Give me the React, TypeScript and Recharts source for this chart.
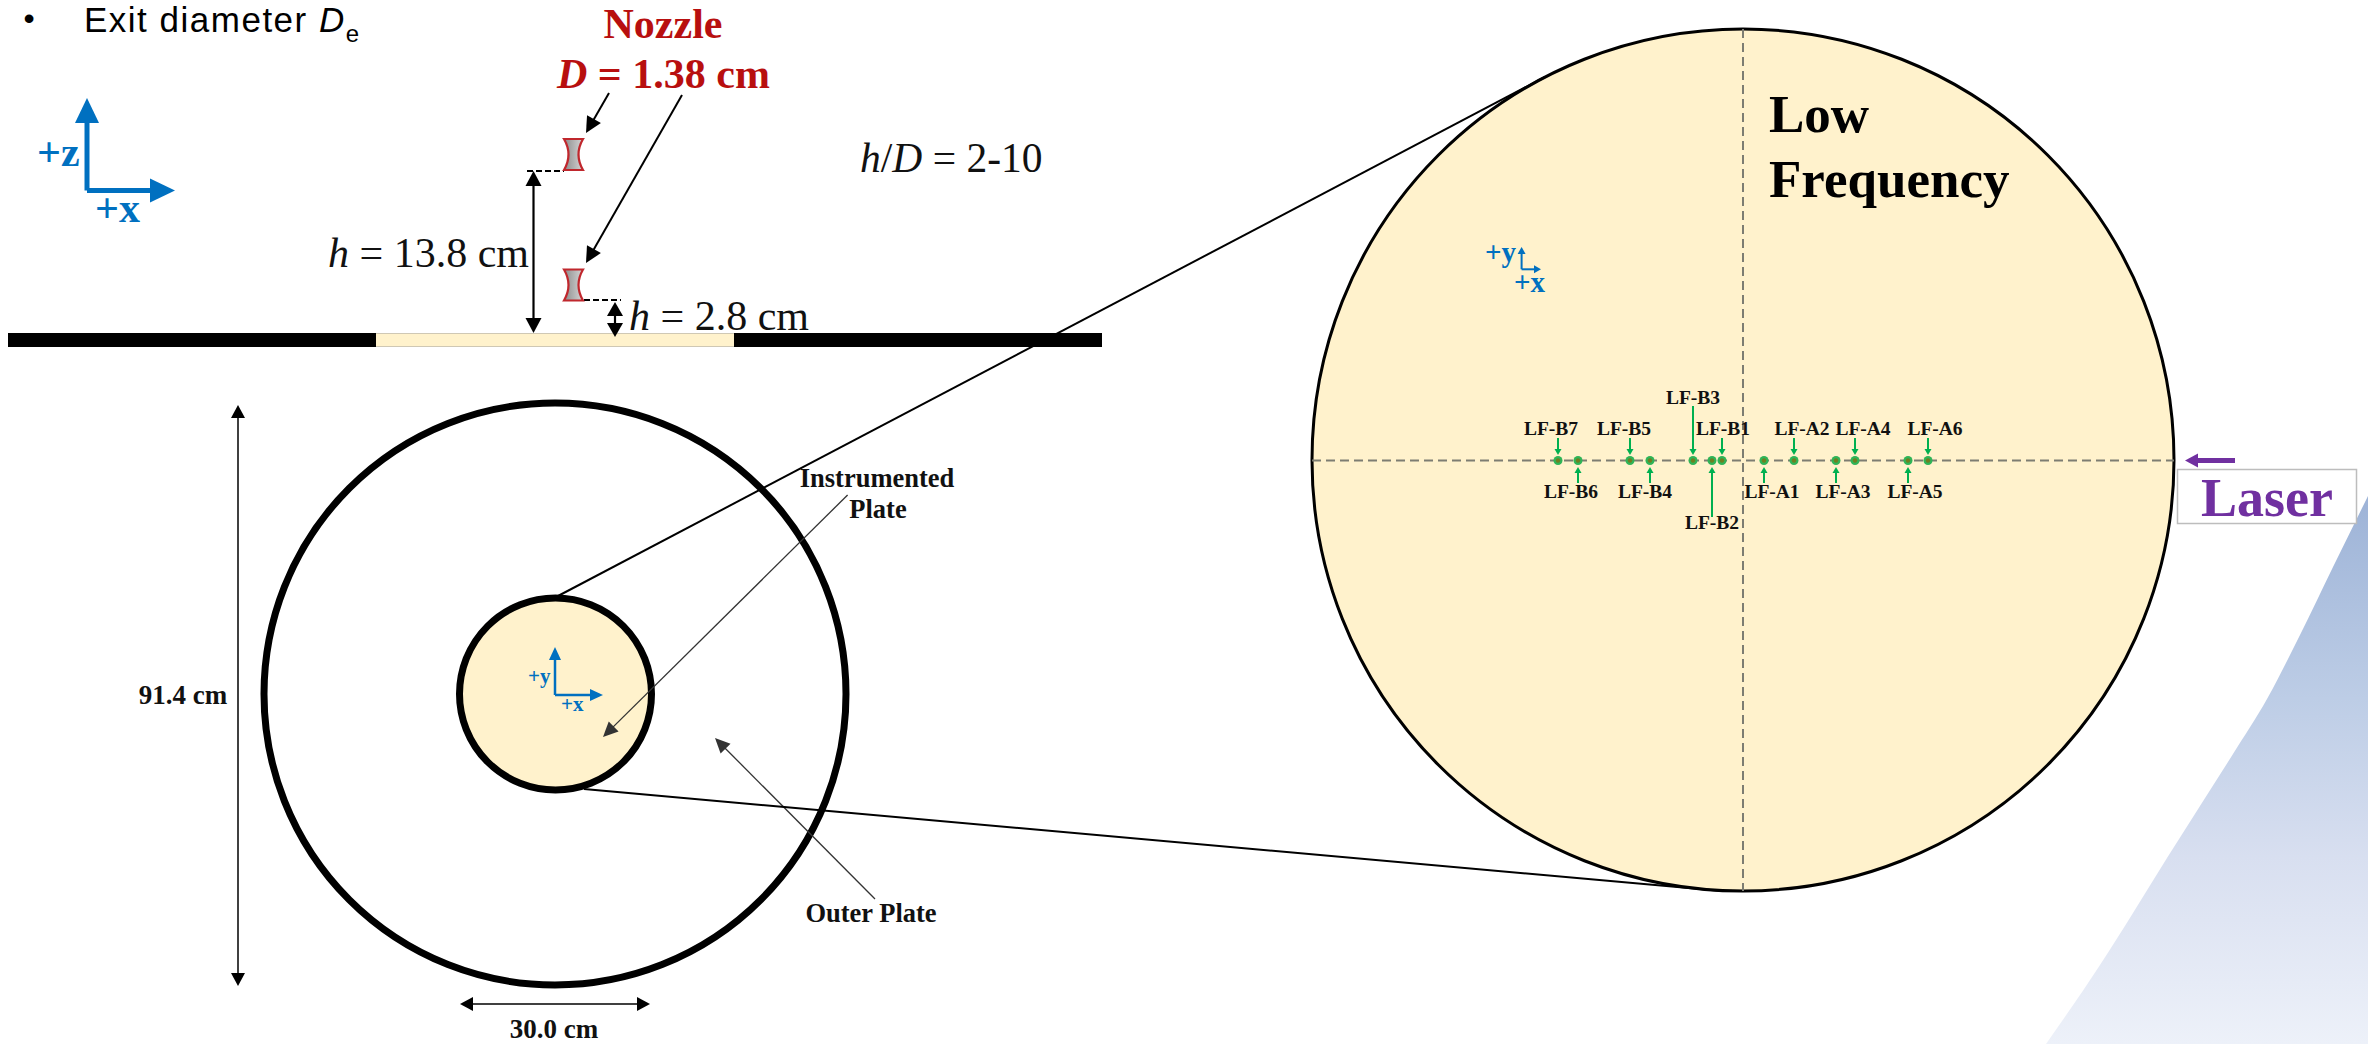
import { ComposedChart, Area, Scatter, XAxis, YAxis, ReferenceLine, ReferenceDot, ReferenceArea } from "recharts";

const W = 2368;
const H = 1044;
const SERIF = "'Liberation Serif', serif";
const SANS = "'Liberation Sans', sans-serif";
const CREAM = "#FFF2CC";
const BLUE = "#0070C0";
const GREEN = "#00B050";
const RED = "#B80F0F";
const PURPLE = "#7030A0";

// background swoosh, lower right
const swooshX = [2046, 2100, 2133, 2167, 2200, 2233, 2267, 2300, 2333, 2368];
const swooshY = [1044, 965, 913, 858, 806, 754, 699, 635, 567, 496];
const swoosh = swooshX.map((x, i) => ({ x, band: [swooshY[i], H] }));

// sensors on the zoomed plate
const sensorNames = ["LF-B7", "LF-B6", "LF-B5", "LF-B4", "LF-B3", "LF-B2", "LF-B1", "LF-A1", "LF-A2", "LF-A3", "LF-A4", "LF-A5", "LF-A6"];
const sensorX = [1558, 1578, 1630, 1650, 1693, 1712, 1722, 1764, 1794, 1836, 1855, 1908, 1928];
const labelX = [1551, 1571, 1624, 1645, 1693, 1712, 1723, 1772, 1802, 1843, 1863, 1915, 1935];
const labelY = [435, 498, 435, 498, 404, 529, 435, 498, 435, 498, 435, 498, 435];
const arrowTail = [438, 483, 438, 483, 406, 517, 438, 483, 438, 483, 438, 483, 438];
const PLATE_Y = 460.5;
const sensors = sensorX.map((x) => ({ x, y: PLATE_Y }));

type Pt = [number, number];
type ArrowOpts = { color?: string; width?: number; len?: number; half?: number; both?: boolean };

const head = (key: string, tip: Pt, from: Pt, color: string, len: number, half: number) => {
  const a = Math.atan2(tip[1] - from[1], tip[0] - from[0]);
  const c = Math.cos(a);
  const s = Math.sin(a);
  return (
    <ReferenceDot
      key={key}
      x={tip[0]}
      y={tip[1]}
      r={1}
      shape={(p: any) => (
        <polygon
          fill={color}
          points={`${p.cx},${p.cy} ${p.cx - len * c - half * s},${p.cy - len * s + half * c} ${p.cx - len * c + half * s},${p.cy - len * s - half * c}`}
        />
      )}
    />
  );
};

const seg = (key: string, a: Pt, b: Pt, color = "#000", width = 2, dash?: string) => (
  <ReferenceLine
    key={key}
    segment={[{ x: a[0], y: a[1] }, { x: b[0], y: b[1] }]}
    stroke={color}
    strokeWidth={width}
    strokeDasharray={dash}
  />
);

const arrow = (key: string, from: Pt, tip: Pt, o: ArrowOpts = {}) => {
  const { color = "#000", width = 2, len = 14, half = 7, both = false } = o;
  const d = Math.hypot(tip[0] - from[0], tip[1] - from[1]);
  const ux = (tip[0] - from[0]) / d;
  const uy = (tip[1] - from[1]) / d;
  const end: Pt = [tip[0] - ux * (len - 1), tip[1] - uy * (len - 1)];
  const start: Pt = both ? [from[0] + ux * (len - 1), from[1] + uy * (len - 1)] : from;
  return [
    seg(key + "-l", start, end, color, width),
    head(key + "-h", tip, from, color, len, half),
    ...(both ? [head(key + "-h2", from, tip, color, len, half)] : []),
  ];
};

// circles sit in the area layer so the reference lines stay on top of them
const disc = (key: string, x: number, y: number, r: number, fill: string, width: number) => (
  <ReferenceArea
    key={key}
    x1={x - r}
    x2={x + r}
    y1={y - r}
    y2={y + r}
    shape={(p: any) => (
      <circle cx={p.x + p.width / 2} cy={p.y + p.height / 2} r={p.width / 2} fill={fill} stroke="#000" strokeWidth={width} />
    )}
  />
);

const txt = (key: string, x: number, y: number, body: any, style: any) => (
  <ReferenceDot
    key={key}
    x={x}
    y={y}
    r={1}
    shape={(p: any) => (
      <text x={p.cx} y={p.cy} fontFamily={SERIF} {...style}>
        {body}
      </text>
    )}
  />
);

const nozzle = (key: string, x: number, y: number) => (
  <ReferenceDot
    key={key}
    x={x}
    y={y}
    r={1}
    shape={(p: any) => (
      <path
        d={`M${p.cx - 9.5},${p.cy - 15.5} Q${p.cx - 0.5},${p.cy} ${p.cx - 9.5},${p.cy + 15.5} L${p.cx + 9.5},${p.cy + 15.5} Q${p.cx + 0.5},${p.cy} ${p.cx + 9.5},${p.cy - 15.5} Z`}
        fill="url(#nozzleFill)"
        stroke="#C0272D"
        strokeWidth={2.2}
      />
    )}
  />
);

const SensorDot = (p: any) => (
  <g>
    <circle cx={p.cx} cy={p.cy} r={4.5} fill="#2FB457" />
    <circle cx={p.cx} cy={p.cy} r={2.2} fill="#6E7F22" />
  </g>
);

const axes = (key: string, o: Pt, up: number, right: number, color: string, w: number, len: number, half: number) => [
  ...arrow(key + "-u", o, [o[0], up], { color, width: w, len, half }),
  ...arrow(key + "-r", o, [right, o[1]], { color, width: w, len, half }),
];

export default function App() {
  return (
    <div style={{ position: "absolute", left: 0, top: 0, width: W, height: H, background: "#fff" }}>
      <ComposedChart width={W} height={H} margin={{ top: 0, right: 0, bottom: 0, left: 0 }}>
        <defs>
          <linearGradient id="swooshFill" x1="0" y1="0" x2="0" y2="1">
            <stop offset="0%" stopColor="#9DB3D7" />
            <stop offset="37%" stopColor="#BDCDE6" />
            <stop offset="66%" stopColor="#D8DFF0" />
            <stop offset="100%" stopColor="#EDF1F9" />
          </linearGradient>
          <linearGradient id="nozzleFill" x1="0" y1="0" x2="1" y2="0">
            <stop offset="0%" stopColor="#8C8C8C" />
            <stop offset="100%" stopColor="#D6D6D6" />
          </linearGradient>
        </defs>
        <XAxis type="number" dataKey="x" domain={[0, W]} hide allowDataOverflow />
        <YAxis type="number" domain={[0, H]} reversed hide allowDataOverflow />

        <Area data={swoosh} dataKey="band" type="monotone" stroke="none" fill="url(#swooshFill)" fillOpacity={1} dot={false} isAnimationActive={false} />

        {/* side view */}
        {seg("bar", [8, 340], [1102, 340], "#000", 14)}
        {seg("bar-mid", [376, 340], [734, 340], CREAM, 14)}
        {seg("bar-edge-a", [376, 333.5], [734, 333.5], "#CFC8B4", 1)}
        {seg("bar-edge-b", [376, 346.5], [734, 346.5], "#CFC8B4", 1)}
        {nozzle("noz-top", 573.5, 154.5)}
        {nozzle("noz-low", 573.5, 285)}
        {seg("dash-top", [527, 171], [564, 171], "#000", 2, "6 3")}
        {seg("dash-low", [584, 300], [621, 300], "#000", 2, "6 3")}
        {arrow("h138", [533.5, 171], [533.5, 333], { both: true, len: 15, half: 8, width: 2.2 })}
        {arrow("h28", [615, 302], [615, 337], { both: true, len: 14, half: 8, width: 2.2 })}
        {arrow("noz-a", [609, 93], [586, 133], { len: 16, half: 8 })}
        {arrow("noz-b", [682, 95], [586, 263], { len: 16, half: 8 })}
        {axes("side-axes", [87, 190.5], 98, 175, BLUE, 5, 25, 12)}

        {/* plan view */}
        {disc("outer", 555, 694, 291, "none", 7)}
        {disc("inner", 555.5, 694, 96, CREAM, 7)}
        {axes("plan-axes", [555, 695], 647, 603, BLUE, 2.5, 13, 6)}
        {arrow("inst", [847.6, 495], [603, 737], { color: "#333", width: 1.3, len: 15, half: 7 })}
        {arrow("outerp", [875, 899], [715, 738], { color: "#333", width: 1.3, len: 15, half: 7 })}
        {arrow("d914", [238, 405], [238, 986], { width: 1.5, len: 13, half: 7, both: true })}
        {arrow("d300", [460, 1004], [650, 1004], { width: 1.5, len: 13, half: 7, both: true, color: "#000" })}

        {/* zoom lines */}
        {disc("big", 1743, 460, 431, CREAM, 3)}
        {seg("zoom-a", [558, 596], [1545, 77], "#000", 2)}
        {seg("zoom-b", [584, 789], [1722, 891], "#000", 2)}
        {seg("big-h", [1312, PLATE_Y], [2174, PLATE_Y], "#7D7D72", 2, "9 5")}
        {seg("big-v", [1743, 29], [1743, 891], "#7D7D72", 2, "9 5")}
        {axes("big-axes", [1521.6, 269.3], 247, 1541, BLUE, 2, 7, 4)}

        {/* sensors */}
        {sensorX.map((x, i) =>
          labelY[i] < PLATE_Y
            ? arrow("s" + i, [x, arrowTail[i]], [x, 455], { color: GREEN, width: 2, len: 6, half: 3.5 })
            : arrow("s" + i, [x, arrowTail[i]], [x, 467], { color: GREEN, width: 2, len: 6, half: 3.5 })
        )}
        <Scatter data={sensors} dataKey="y" shape={SensorDot} isAnimationActive={false} />
        {sensorNames.map((name, i) =>
          txt("sl" + i, labelX[i], labelY[i], name, { fontSize: 19.5, fontWeight: 700, textAnchor: "middle", fill: "#111" })
        )}

        {/* laser */}
        <ReferenceDot
          x={2267}
          y={496.5}
          r={1}
          shape={(p: any) => <rect x={p.cx - 89.5} y={p.cy - 27} width={179} height={54} fill="#fff" stroke="#BDBDBD" strokeWidth={1.5} />}
        />
        {arrow("laser", [2235, 460.5], [2185, 460.5], { color: PURPLE, width: 5, len: 13, half: 7 })}
        {txt("laser-t", 2267, 515.5, "Laser", { fontSize: 54, fontWeight: 700, textAnchor: "middle", fill: PURPLE })}

        {/* text */}
        {txt("bullet", 29, 29, "•", { fontSize: 32, fontFamily: SANS, fill: "#000", textAnchor: "middle" })}
        {txt(
          "exit",
          84,
          32,
          <>
            Exit diameter <tspan fontStyle="italic">D</tspan>
            <tspan fontSize={24} dy={10}>e</tspan>
          </>,
          { fontSize: 35, fontFamily: SANS, fill: "#000", letterSpacing: 1.5 }
        )}
        {txt("nozzle", 663, 38, "Nozzle", { fontSize: 42, fontWeight: 700, textAnchor: "middle", fill: RED })}
        {txt(
          "d138",
          557,
          88,
          <>
            <tspan fontStyle="italic">D</tspan> = 1.38 cm
          </>,
          { fontSize: 42, fontWeight: 700, fill: RED }
        )}
        {txt(
          "h138-t",
          328,
          267,
          <>
            <tspan fontStyle="italic">h</tspan> = 13.8 cm
          </>,
          { fontSize: 42, fill: "#111" }
        )}
        {txt(
          "h28-t",
          629,
          330,
          <>
            <tspan fontStyle="italic">h</tspan> = 2.8 cm
          </>,
          { fontSize: 42, fill: "#111" }
        )}
        {txt(
          "hd",
          860,
          172,
          <>
            <tspan fontStyle="italic">h</tspan>/<tspan fontStyle="italic">D</tspan> = 2-10
          </>,
          { fontSize: 41.5, fill: "#111" }
        )}
        {txt("pz", 37, 166, "+z", { fontSize: 42, fontWeight: 700, fill: BLUE })}
        {txt("px", 95, 222, "+x", { fontSize: 42, fontWeight: 700, fill: BLUE })}
        {txt("py2", 528, 683, "+y", { fontSize: 21, fontWeight: 700, fill: BLUE })}
        {txt("px2", 561, 711, "+x", { fontSize: 21, fontWeight: 700, fill: BLUE })}
        {txt("py3", 1485, 262, "+y", { fontSize: 29, fontWeight: 700, fill: BLUE })}
        {txt("px3", 1514, 292, "+x", { fontSize: 29, fontWeight: 700, fill: BLUE })}
        {txt("low", 1769, 132, "Low", { fontSize: 53, fontWeight: 700, fill: "#000" })}
        {txt("freq", 1769, 197, "Frequency", { fontSize: 53, fontWeight: 700, fill: "#000" })}
        {txt("inst-1", 877, 487, "Instrumented", { fontSize: 26.5, fontWeight: 700, textAnchor: "middle", fill: "#111" })}
        {txt("inst-2", 878, 518, "Plate", { fontSize: 26.5, fontWeight: 700, textAnchor: "middle", fill: "#111" })}
        {txt("outer-t", 871, 922, "Outer Plate", { fontSize: 26.5, fontWeight: 700, textAnchor: "middle", fill: "#111" })}
        {txt("d914-t", 183, 704, "91.4 cm", { fontSize: 27, fontWeight: 700, textAnchor: "middle", fill: "#111" })}
        {txt("d300-t", 554, 1038, "30.0 cm", { fontSize: 27, fontWeight: 700, textAnchor: "middle", fill: "#111" })}
      </ComposedChart>
    </div>
  );
}
